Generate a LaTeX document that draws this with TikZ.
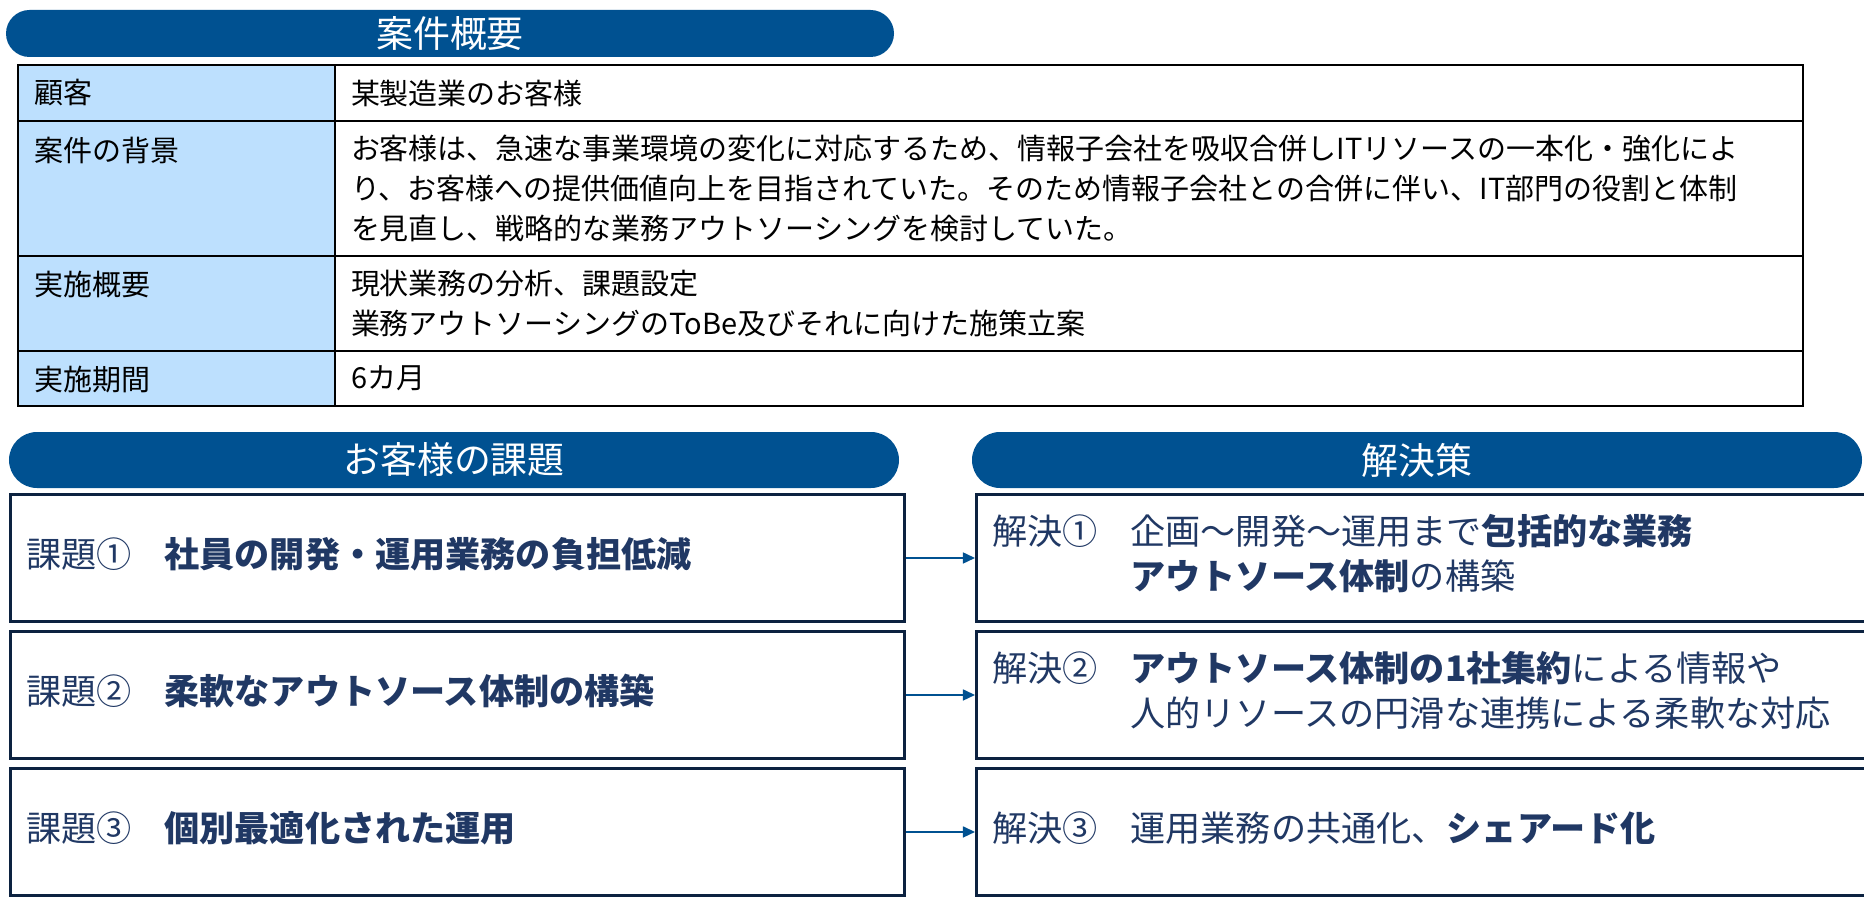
\documentclass[tikz,border=0pt]{standalone}
\usepackage{fontspec}
\setmainfont{Noto Sans CJK JP}
\usepackage{tikz}
\usetikzlibrary{positioning, calc, arrows.meta}
\definecolor{headblue}{RGB}{0,81,145}
\definecolor{cellblue}{RGB}{189,224,254}
\definecolor{boxnavy}{RGB}{12,34,64}
\definecolor{textblue}{RGB}{32,56,100}
\tikzstyle{pill} = [rectangle, rounded corners=0.56cm, fill=headblue, text=white, font=\fontsize{21}{25}\selectfont, minimum width=17.8cm, minimum height=1.12cm]
\tikzstyle{headcell} = [rectangle, draw=black, line width=1.1pt, fill=cellblue, minimum width=6.34cm, outer sep=0pt]
\tikzstyle{valcell} = [rectangle, draw=black, line width=1.1pt, text width=28.72cm, align=left, inner xsep=0.32cm, outer sep=0pt, font=\fontsize{16.5}{22.8}\selectfont]
\tikzstyle{headtext} = [anchor=west, inner sep=0pt, font=\fontsize{16.5}{22.8}\selectfont]
\tikzstyle{issuebox} = [rectangle, draw=boxnavy, line width=1.7pt, text=textblue, text width=17.24cm, minimum height=2.54cm, inner xsep=0.32cm, align=left, font=\fontsize{20}{26}\selectfont]
\tikzstyle{solbox} = [issuebox, text width=17.14cm]
\tikzstyle{arrow} = [draw=headblue, line width=0.85pt, -{Triangle[length=0.24cm,width=0.22cm]}]

\begin{document}
\begin{tikzpicture}
\useasboundingbox (0,0) rectangle (37.28,-17.96);

% outline of the case
\node(title)[pill, rounded corners=0.47cm, minimum width=17.76cm, minimum height=0.94cm] at (9.0,-0.67) {案件概要};

\node(c1)[headcell, minimum height=1.12cm, anchor=north west] at (0.36,-1.30) {};
\node(v1)[valcell, minimum height=1.12cm, right=0cm of c1] {某製造業のお客様};
\node(c2)[headcell, minimum height=2.7cm, below=0cm of c1] {};
\node(v2)[valcell, minimum height=2.7cm, right=0cm of c2] {お客様は、急速な事業環境の変化に対応するため、情報子会社を吸収合併しITリソースの一本化・強化によ\\り、お客様への提供価値向上を目指されていた。そのため情報子会社との合併に伴い、IT部門の役割と体制\\を見直し、戦略的な業務アウトソーシングを検討していた。};
\node(c3)[headcell, minimum height=1.9cm, below=0cm of c2] {};
\node(v3)[valcell, minimum height=1.9cm, right=0cm of c3] {現状業務の分析、課題設定\\業務アウトソーシングのToBe及びそれに向けた施策立案};
\node(c4)[headcell, minimum height=1.1cm, below=0cm of c3] {};
\node(v4)[valcell, minimum height=1.1cm, right=0cm of c4] {6カ月};

\node(t1)[headtext] at ($(c1.north west)+(0.32,-0.56)$) {顧客};
\node(t2)[headtext] at ($(c2.north west)+(0.32,-0.58)$) {案件の背景};
\node(t3)[headtext] at ($(c3.north west)+(0.32,-0.56)$) {実施概要};
\node(t4)[headtext] at ($(c4.north west)+(0.32,-0.58)$) {実施期間};

% issues and solutions
\node(issuehead)[pill] at (9.08,-9.20) {お客様の課題};
\node(solhead)[pill] at (28.34,-9.20) {解決策};

\node(i1)[issuebox, anchor=north west] at (0.18,-9.86) {\begin{tabular}{@{}p{2.76cm}@{}l@{}}課題① & \textbf{社員の開発・運用業務の負担低減}\end{tabular}};
\node(i2)[issuebox, below=0.14cm of i1] {\begin{tabular}{@{}p{2.76cm}@{}l@{}}課題② & \textbf{柔軟なアウトソース体制の構築}\end{tabular}};
\node(i3)[issuebox, below=0.14cm of i2] {\begin{tabular}{@{}p{2.76cm}@{}l@{}}課題③ & \textbf{個別最適化された運用}\end{tabular}};

\node(s1)[solbox, right=1.38cm of i1] {\begin{tabular}{@{}p{2.76cm}@{}l@{}}解決① & 企画～開発～運用まで\textbf{包括的な業務}\\ & \textbf{アウトソース体制}の構築\end{tabular}};
\node(s2)[solbox, right=1.38cm of i2] {\begin{tabular}{@{}p{2.76cm}@{}l@{}}解決② & \textbf{アウトソース体制の1社集約}による情報や\\ & 人的リソースの円滑な連携による柔軟な対応\end{tabular}};
\node(s3)[solbox, right=1.38cm of i3] {\begin{tabular}{@{}p{2.76cm}@{}l@{}}解決③ & 運用業務の共通化、\textbf{シェアード化}\end{tabular}};

\draw[arrow] (i1) -- (s1);
\draw[arrow] (i2) -- (s2);
\draw[arrow] (i3) -- (s3);

\end{tikzpicture}
\end{document}
